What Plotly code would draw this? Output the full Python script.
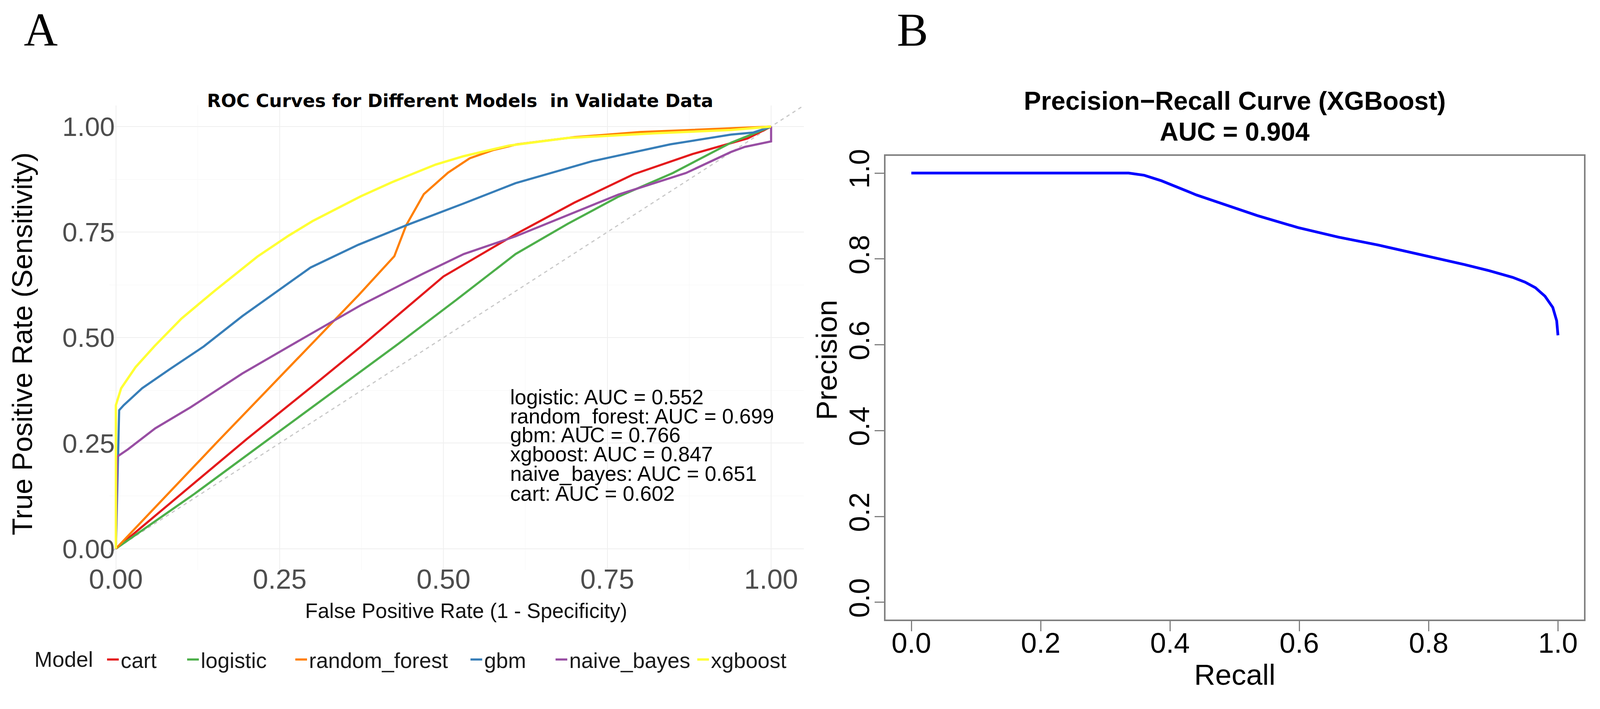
import plotly.graph_objects as go

# ---------------- data ----------------
models = ["cart", "logistic", "random_forest", "gbm", "naive_bayes", "xgboost"]
model_colors = ["#E41A1C", "#4DAF4A", "#FF7F00", "#377EB8", "#984EA3", "#FFFF33"]

cart_fpr = [0, 0.10, 0.20, 0.30, 0.374, 0.50, 0.61, 0.70, 0.79, 0.88, 0.964, 1.0]
cart_tpr = [0, 0.13, 0.26, 0.385, 0.479, 0.645, 0.745, 0.82, 0.887, 0.935, 0.972, 1.0]

logistic_fpr = [0, 0.06, 0.12, 0.232, 0.33, 0.429, 0.52, 0.61, 0.69, 0.767, 0.85, 0.939, 1.0]
logistic_tpr = [0, 0.065, 0.13, 0.258, 0.37, 0.483, 0.59, 0.698, 0.77, 0.834, 0.89, 0.962, 1.0]

rf_fpr = [0, 0.153, 0.295, 0.37, 0.425, 0.443, 0.47, 0.507, 0.54, 0.575, 0.612, 0.70, 0.80, 0.90, 1.0]
rf_tpr = [0, 0.25, 0.479, 0.60, 0.693, 0.766, 0.84, 0.891, 0.925, 0.944, 0.958, 0.975, 0.987, 0.994, 1.0]

gbm_fpr = [0, 0.005, 0.012, 0.04, 0.083, 0.134, 0.193, 0.297, 0.37, 0.443, 0.531, 0.61, 0.727, 0.846, 0.939, 0.973, 1.0]
gbm_tpr = [0, 0.328, 0.34, 0.38, 0.426, 0.479, 0.551, 0.666, 0.72, 0.766, 0.818, 0.866, 0.918, 0.958, 0.981, 0.986, 1.0]

nb_fpr = [0, 0.002, 0.018, 0.06, 0.114, 0.193, 0.264, 0.374, 0.468, 0.531, 0.61, 0.69, 0.767, 0.87, 0.939, 0.96, 1.0, 1.0]
nb_tpr = [0, 0.218, 0.235, 0.285, 0.335, 0.415, 0.479, 0.577, 0.651, 0.698, 0.74, 0.79, 0.839, 0.89, 0.94, 0.952, 0.965, 1.0]

xgb_fpr = [0, 0, 0.008, 0.03, 0.059, 0.10, 0.15, 0.216, 0.264, 0.30, 0.374, 0.421, 0.488, 0.531, 0.60, 0.689, 0.822, 0.939, 1.0]
xgb_tpr = [0, 0.34, 0.38, 0.43, 0.48, 0.545, 0.61, 0.692, 0.742, 0.776, 0.835, 0.868, 0.91, 0.93, 0.955, 0.973, 0.984, 0.992, 1.0]

roc_fpr = [cart_fpr, logistic_fpr, rf_fpr, gbm_fpr, nb_fpr, xgb_fpr]
roc_tpr = [cart_tpr, logistic_tpr, rf_tpr, gbm_tpr, nb_tpr, xgb_tpr]

auc_models = ["logistic", "random_forest", "gbm", "xgboost", "naive_bayes", "cart"]
auc_values = [0.552, 0.699, 0.766, 0.847, 0.651, 0.602]

pr_recall = [0, 0.336, 0.36, 0.387, 0.441, 0.488, 0.535, 0.598, 0.66, 0.723, 0.80,
             0.855, 0.895, 0.93, 0.949, 0.965, 0.98, 0.992, 0.998, 1.0]
pr_precision = [1.0, 1.0, 0.995, 0.982, 0.949, 0.925, 0.901, 0.873, 0.851, 0.832, 0.806,
                0.787, 0.772, 0.757, 0.746, 0.733, 0.713, 0.687, 0.656, 0.622]
pr_auc = 0.904

roc_ticks = [0, 0.25, 0.5, 0.75, 1.0]
pr_ticks = [0, 0.2, 0.4, 0.6, 0.8, 1.0]

# ---------------- layout helpers ----------------
# positions below are measured in reference-image pixels (4156 x 1815);
# the page shows the figure slightly enlarged and offset by the body margin,
# so map reference pixels to figure pixels first.
W, H = 4156, 1815
K = 4096 / 4156
OFF = 8
FW = round(W * K - OFF)
FH = round(H * K - OFF)


def px(x):
    return (x * K - OFF) / FW


def py(y):
    return 1 - (y * K - OFF) / FH


def fs(s):
    return round(s * K, 1)


SANS = "Liberation Sans, Arial, sans-serif"
SERIF = "Liberation Serif, Times New Roman, serif"

fig = go.Figure()

# diagonal reference line
fig.add_trace(go.Scatter(
    x=[-0.05, 1.05], y=[-0.05, 1.05], mode="lines",
    line=dict(color="#c8c8c8", width=3, dash="dash"),
    showlegend=False, hoverinfo="skip", xaxis="x", yaxis="y"
))

# ROC curves, one legend per model so each entry sits where the reference puts it
legend_text_x = [321, 529, 810, 1265, 1486, 1854]
for i, m in enumerate(models):
    key = "legend" if i == 0 else f"legend{i + 1}"
    fig.add_trace(go.Scatter(
        x=roc_fpr[i], y=roc_tpr[i], mode="lines", name=m,
        line=dict(color=model_colors[i], width=6 if m == "xgboost" else 5.5),
        xaxis="x", yaxis="y", legend=key
    ))
    fig.update_layout({key: dict(
        x=px(legend_text_x[i] - 48), y=py(1713), xanchor="left", yanchor="middle",
        orientation="h", bgcolor="rgba(0,0,0,0)",
        font=dict(family=SANS, size=fs(56), color="#1a1a1a")
    )})

# precision-recall curve
fig.add_trace(go.Scatter(
    x=pr_recall, y=pr_precision, mode="lines",
    line=dict(color="#0000FF", width=7),
    showlegend=False, xaxis="x2", yaxis="y2"
))

annotations = [
    dict(text="A", x=px(106), y=1.0, yanchor="top", font=dict(family=SERIF, size=fs(122), color="black")),
    dict(text="B", x=px(2370), y=1.0, yanchor="top", font=dict(family=SERIF, size=fs(122), color="black")),
    dict(text="<b>ROC Curves for Different Models  in Validate Data</b>", x=px(1195), y=py(262),
         font=dict(family="DejaVu Sans, sans-serif", size=fs(47), color="black")),
    dict(text="False Positive Rate (1 - Specificity)", x=px(1211), y=py(1586),
         font=dict(family=SANS, size=fs(54), color="#111111")),
    dict(text="True Positive Rate (Sensitivity)", x=px(58), y=py(893), textangle=-90,
         font=dict(family=SANS, size=fs(73), color="black")),
    dict(text="Model", x=px(87), y=py(1713), xanchor="left",
         font=dict(family=SANS, size=fs(56), color="#1a1a1a")),
    dict(text="<b>Precision\u2212Recall Curve (XGBoost)</b>", x=px(3207), y=py(262),
         font=dict(family=SANS, size=fs(67), color="black")),
    dict(text=f"<b>AUC = {pr_auc:.3f}</b>", x=px(3207), y=py(342),
         font=dict(family=SANS, size=fs(67), color="black")),
    dict(text="Recall", x=px(3207), y=py(1752),
         font=dict(family=SANS, size=fs(76), color="black")),
    dict(text="Precision", x=px(2146), y=py(935), textangle=-90,
         font=dict(family=SANS, size=fs(76), color="black")),
]

auc_y = [1031, 1081, 1130, 1180, 1230, 1282]
for name, val, yy in zip(auc_models, auc_values, auc_y):
    annotations.append(dict(text=f"{name}: AUC = {val:.3f}", x=px(1323), y=py(yy), xanchor="left",
                            font=dict(family=SANS, size=fs(54), color="black")))

for a in annotations:
    a.setdefault("xref", "paper")
    a.setdefault("yref", "paper")
    a.setdefault("showarrow", False)
    a.setdefault("xanchor", "center")
    a.setdefault("yanchor", "middle")

fig.update_layout(
    width=FW, height=FH,
    margin=dict(l=0, r=0, t=0, b=0, pad=0, autoexpand=False),
    paper_bgcolor="white", plot_bgcolor="white",
    annotations=annotations,
    xaxis=dict(
        domain=[px(284), px(2088)], range=[-0.01, 1.05], anchor="y", automargin=False,
        tickvals=roc_ticks, tickformat=".2f", ticks="", showline=False, zeroline=False,
        showgrid=True, gridcolor="#efefef", gridwidth=2,
        minor=dict(tickvals=[0.125, 0.375, 0.625, 0.875], showgrid=True, gridcolor="#f6f6f6", gridwidth=1),
        tickfont=dict(family=SANS, size=fs(72), color="#4d4d4d"), ticklabelstandoff=-24
    ),
    yaxis=dict(
        domain=[py(1480), py(274)], range=[-0.05, 1.05], anchor="x", automargin=False,
        tickvals=roc_ticks, tickformat=".2f", ticks="", showline=False, zeroline=False,
        showgrid=True, gridcolor="#efefef", gridwidth=2,
        minor=dict(tickvals=[0.125, 0.375, 0.625, 0.875], showgrid=True, gridcolor="#f6f6f6", gridwidth=1),
        tickfont=dict(family=SANS, size=fs(70), color="#4d4d4d"), ticklabelstandoff=-15
    ),
    xaxis2=dict(
        domain=[px(2300), px(4114)], range=[-0.04, 1.04], anchor="y2", automargin=False,
        tickvals=pr_ticks, tickformat=".1f", ticks="outside", ticklen=26, tickwidth=3,
        tickcolor="#808080", showline=True, mirror=True, linecolor="#808080", linewidth=4,
        showgrid=False, zeroline=False, ticklabelstandoff=-32,
        tickfont=dict(family=SANS, size=fs(74), color="black")
    ),
    yaxis2=dict(
        domain=[py(1609), py(405)], range=[-0.04, 1.04], anchor="x2", automargin=False,
        tickvals=pr_ticks, tickformat=".1f", ticks="outside", ticklen=24, tickwidth=3,
        tickcolor="#808080", showline=True, mirror=True, linecolor="#808080", linewidth=4,
        showgrid=False, zeroline=False, tickangle=-90, ticklabelstandoff=-15,
        tickfont=dict(family=SANS, size=fs(74), color="black")
    ),
)

fig.write_html("out.html")
